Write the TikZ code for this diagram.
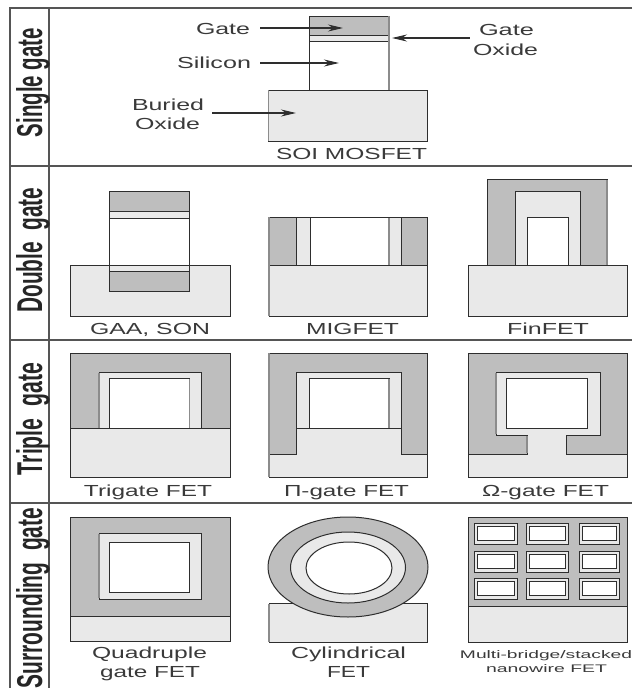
\documentclass[tikz,border=0pt]{standalone}
\usepackage{fontspec}
\setmainfont{Liberation Sans}
\usetikzlibrary{arrows.meta}
\definecolor{ink}{HTML}{2E2E2E}
\definecolor{txt}{HTML}{3A3A3A}
\definecolor{gatecol}{HTML}{BEBEBE}
\definecolor{oxcol}{HTML}{E9E9E9}
\definecolor{framecol}{HTML}{555555}
\newcommand\lab[2]{\resizebox{#1pt}{\height}{#2}}
\newcommand\sidelab[2]{\resizebox{#1pt}{26pt}{\bfseries #2}}
\tikzset{
  x=1pt,y=-1pt,
  gatepart/.style={draw=ink,line width=1pt,fill=gatecol},
  oxpart/.style={draw=ink,line width=1pt,fill=oxcol},
  silpart/.style={draw=ink,line width=1pt,fill=white},
  softedge/.style={draw=black!45,line width=1.6pt},
  frameline/.style={draw=framecol,line width=1.4pt},
  caption/.style={inner sep=0pt,anchor=base,text=txt,font=\fontsize{16}{20}\selectfont},
  smallcap/.style={inner sep=0pt,anchor=base,text=txt,font=\fontsize{11}{13}\selectfont},
  sidecap/.style={inner sep=0pt,anchor=base,rotate=90,text=black!85,font=\fontsize{22}{24}\selectfont},
  pointer/.style={draw=ink,line width=1.2pt,-{Stealth[length=15pt,width=7pt]}},
}
\begin{document}
\begin{tikzpicture}
\useasboundingbox (0,0) rectangle (632,688);
\fill[white] (0,0) rectangle (632,688);
% frame
\draw[frameline] (632,8) -- (10,8) -- (10,688);
\draw[frameline] (49,8) -- (49,688);
\draw[frameline] (10,166) -- (632,166);
\draw[frameline] (10,340) -- (632,340);
\draw[frameline] (10,503) -- (632,503);
\node[sidecap] (s1) at (42,82.5) {\sidelab{109}{Single gate}};
\node[sidecap] (s2) at (42,250) {\sidelab{125}{Double\ \ gate}};
\node[sidecap] (s3) at (42,419) {\sidelab{112}{Triple\ \ gate}};
\node[sidecap] (s4) at (42,598) {\sidelab{180}{Surrounding\ \ gate}};
% SOI MOSFET
\draw[oxpart] (268.5,90) rectangle (427.5,141);
\draw[silpart] (309,41) rectangle (389,90);
\draw[oxpart] (309,35) rectangle (389,41);
\draw[gatepart] (309,16) rectangle (389,35);
\draw[softedge] (389,16) -- (389,90);
\draw[softedge] (268.5,90) -- (268.5,141);
\node[caption] (soi) at (351.5,159) {\lab{151}{SOI MOSFET}};
\node[caption] (lgate) at (223,34) {\lab{54}{Gate}};
\node[caption] (lsil) at (214,68) {\lab{74}{Silicon}};
\node[caption] (lbur) at (168,110) {\lab{72}{Buried}};
\node[caption] (lbox) at (167.5,129) {\lab{65}{Oxide}};
\node[caption] (lgo1) at (506.5,35) {\lab{55}{Gate}};
\node[caption] (lgo2) at (505.5,55) {\lab{65}{Oxide}};
\coordinate (agate) at (343,28);
\coordinate (asil) at (339,63);
\coordinate (abur) at (296,113);
\coordinate (ago) at (392,38);
\draw[pointer,shorten <=10pt] (lgate.east |- agate) -- (agate);
\draw[pointer,shorten <=9pt] (lsil.east |- asil) -- (asil);
\draw[pointer,shorten <=8pt] (lbur.east |- abur) -- (abur);
\draw[pointer,shorten <=3pt] (lgo2.west |- ago) -- (ago);
% GAA
\draw[oxpart] (70.5,265) rectangle (230.5,316);
\draw[silpart] (109,218) rectangle (189.5,265);
\draw[oxpart] (109,211) rectangle (189.5,218);
\draw[gatepart] (109,191) rectangle (189.5,211);
\draw[oxpart] (109,265) rectangle (189.5,271);
\draw[gatepart] (109,271) rectangle (189.5,291);
\node[caption] (c1) at (150,334) {\lab{120}{GAA, SON}};
% MIGFET
\draw[oxpart] (269,265) rectangle (427.5,316);
\draw[gatepart] (269,217) rectangle (296,265);
\draw[oxpart] (296,217) rectangle (310,265);
\draw[silpart] (310,217) rectangle (389,265);
\draw[oxpart] (389,217) rectangle (401,265);
\draw[gatepart] (401,217) rectangle (427.5,265);
\draw[softedge] (389,218) -- (389,265);
\draw[softedge] (269,217) -- (269,316);
\node[caption] (c2) at (352.5,334) {\lab{93}{MIGFET}};
% FinFET
\draw[oxpart] (468,265) rectangle (627,316);
\draw[gatepart] (487,265) -- (487,179) -- (607,179) -- (607,265) -- cycle;
\draw[oxpart] (515,265) -- (515,191) -- (580,191) -- (580,265) -- cycle;
\draw[silpart] (527,265) -- (527,217) -- (568,217) -- (568,265) -- cycle;
\draw[softedge] (607,180) -- (607,265);
\node[caption] (c3) at (548,334) {\lab{82}{FinFET}};
% Trigate
\draw[oxpart] (70.5,428) rectangle (230.5,477);
\draw[gatepart] (70.5,428) -- (70.5,353) -- (230.5,353) -- (230.5,428) -- cycle;
\draw[oxpart] (99,428) -- (99,372) -- (201.5,372) -- (201.5,428) -- cycle;
\draw[silpart] (109,428) -- (109,378) -- (189.5,378) -- (189.5,428) -- cycle;
\draw[softedge] (99,373) -- (99,428);
\draw[softedge] (189.5,379) -- (189.5,428);
\node[caption] (c4) at (148,496) {\lab{128}{Trigate FET}};
% Pi-gate
\draw[gatepart] (269,454) -- (269,353) -- (427.5,353) -- (427.5,454) -- cycle;
\draw[oxpart] (296,454) -- (296,372) -- (401.5,372) -- (401.5,454) -- cycle;
\draw[oxpart] (269,454) -- (296,454) -- (296,428) -- (401.5,428) -- (401.5,454) -- (427.5,454) -- (427.5,477) -- (269,477) -- cycle;
\draw[silpart] (309,428) -- (309,378) -- (389,378) -- (389,428) -- cycle;
\draw[softedge] (269,353) -- (269,477);
\draw[softedge] (389,379) -- (389,428);
\node[caption] (c5) at (346.5,496) {\lab{125}{Π-gate FET}};
% Omega-gate
\draw[gatepart] (468,454) -- (468,353) -- (627,353) -- (627,454) -- cycle;
\draw[oxpart] (468,454) -- (527,454) -- (527,435) -- (496,435) -- (496,372) -- (600,372) -- (600,435) -- (566.5,435) -- (566.5,454) -- (627,454) -- (627,477) -- (468,477) -- cycle;
\draw[silpart] (506,378) rectangle (587,428);
\draw[softedge] (496,373) -- (496,434);
\draw[softedge] (527,436) -- (527,453);
\node[caption] (c6) at (545.5,496) {\lab{127}{Ω-gate FET}};
% Quadruple
\draw[oxpart] (70.5,616) rectangle (230.5,641);
\draw[gatepart] (70.5,517) rectangle (230.5,616);
\draw[oxpart] (99,533) rectangle (201.5,599);
\draw[silpart] (109,542) rectangle (189.5,592);
\draw[softedge] (99,534) -- (99,598);
\node[caption] (c7a) at (149.5,658) {\lab{115}{Quadruple}};
\node[caption] (c7b) at (150,677) {\lab{100}{gate FET}};
% Cylindrical
\draw[oxpart] (269,603) rectangle (427.5,642);
\draw[gatepart] (348,567) ellipse [x radius=80,y radius=50];
\draw[oxpart] (348,567.5) ellipse [x radius=57.5,y radius=35.5];
\draw[silpart] (349,568) ellipse [x radius=43,y radius=26];
\draw[softedge] (269,604) -- (269,642);
\node[caption] (c8a) at (348.5,658) {\lab{115}{Cylindrical}};
\node[caption] (c8b) at (348.5,677) {\lab{43}{FET}};
% Multi-bridge
\draw[oxpart] (468,606) rectangle (627,642);
\draw[gatepart] (468,517) rectangle (627,606);
\foreach \xa/\xb in {474/517,526/568,579/619}
  \foreach \ya/\yb in {523/544,551/572,578/599} {
    \draw[oxpart] (\xa,\ya) rectangle (\xb,\yb);
    \draw[silpart] (\xa+3,\ya+3.5) rectangle (\xb-3,\yb-3.5);
  }
\node[smallcap] (c9a) at (546,658) {\lab{172}{Multi-bridge/stacked}};
\node[smallcap] (c9b) at (546.5,672) {\lab{121}{nanowire FET}};
\end{tikzpicture}
\end{document}
